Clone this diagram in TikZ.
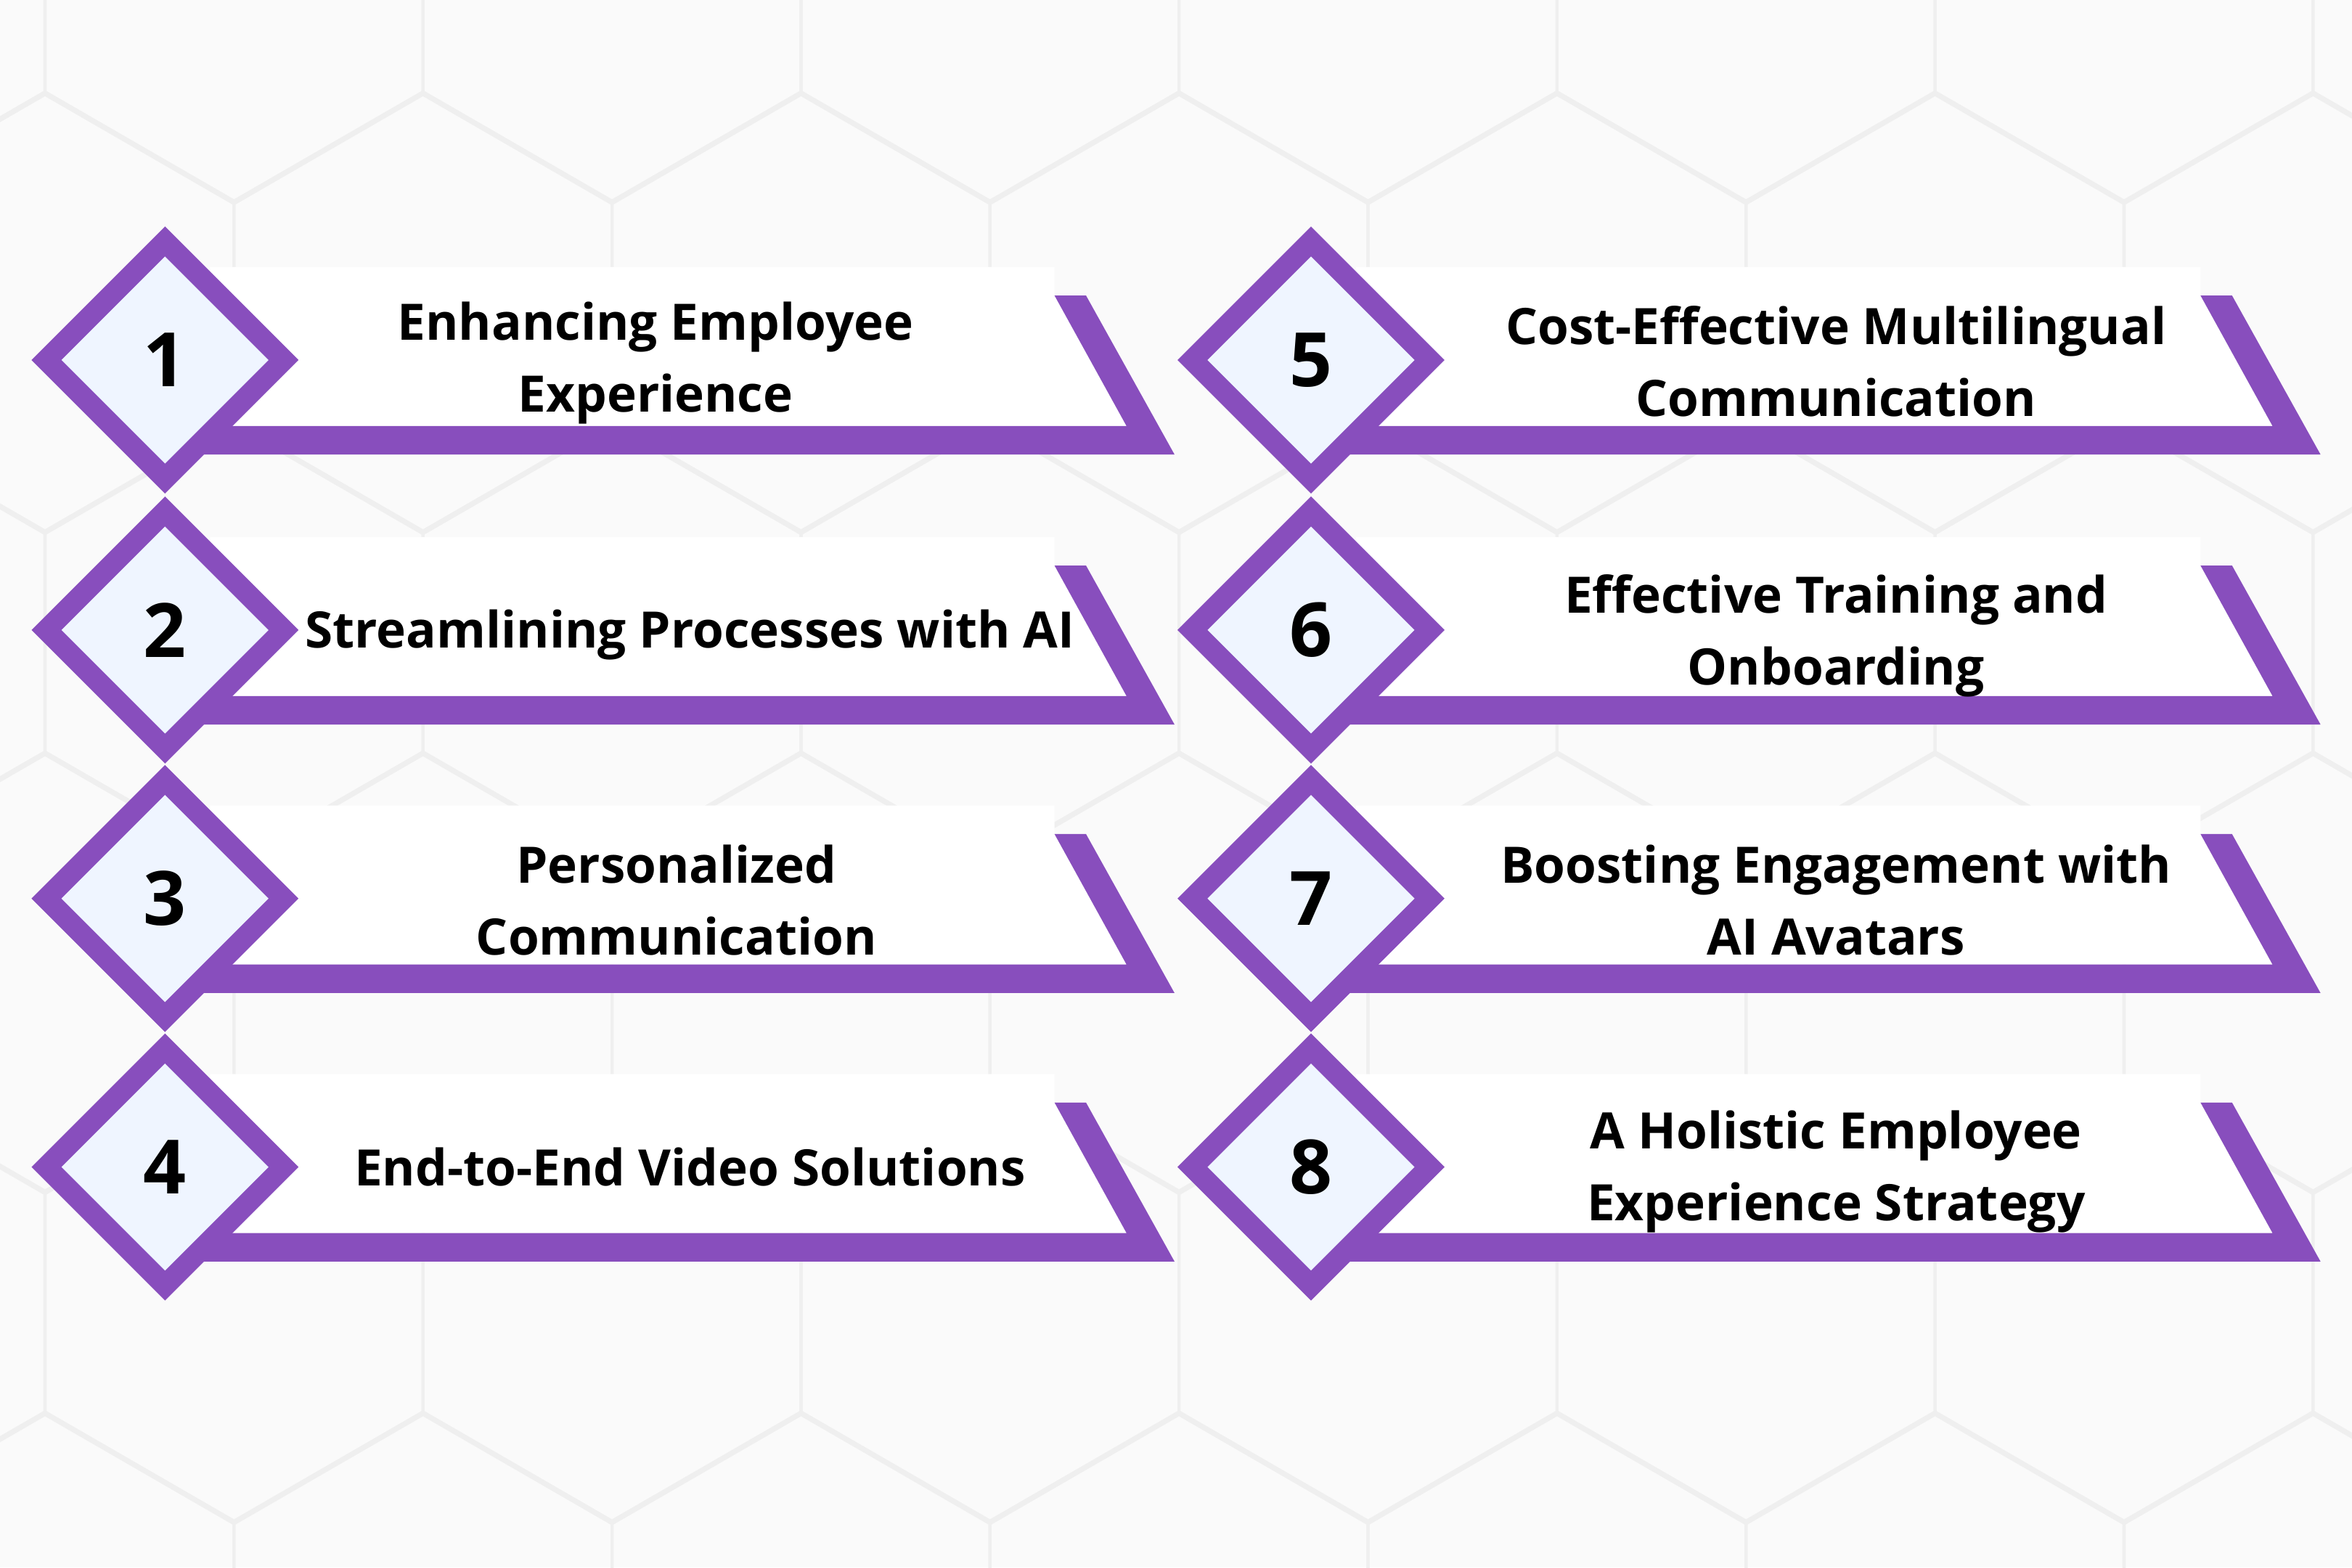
\documentclass[tikz,border=0pt]{standalone}
\usepackage{fontspec}
\setmainfont{Open Sans}
\definecolor{pur}{HTML}{884EBD}
\definecolor{inn}{HTML}{EFF5FF}
\definecolor{bgc}{HTML}{FAFAFA}
\definecolor{hexl}{HTML}{EFEFEF}
\tikzset{
 panel/.style={fill=white},
 band/.style={fill=pur},
 dout/.style={fill=pur},
 din/.style={fill=inn},
 numtxt/.style={font=\fontsize{50}{50}\selectfont\bfseries, text=black, inner sep=0pt},
 lbl/.style={font=\fontsize{33.5}{48}\selectfont\bfseries, align=center, text=black, inner sep=0pt},
 hexedge/.style={draw=hexl, line width=2pt, line join=round}
}
\newcommand\drawitem[3]{%
 \begin{scope}[shift={(#1,#2)}]
  \fill[panel] (30,-62) -- (593,-62) -- (593,-43) -- (641,44) -- (30,44) -- cycle;
  \fill[band] (593,-43) -- (614,-43) -- (673,63) -- (0,63) -- (0,44) -- (641,44) -- cycle;
  \fill[dout] (0,-89) -- (89,0) -- (0,89) -- (-89,0) -- cycle;
  \fill[din] (0,-69) -- (69,0) -- (0,69) -- (-69,0) -- cycle;
  \node[numtxt] (n#3) at (0,0) {#3};
 \end{scope}}
\begin{document}
\begin{tikzpicture}[x=1pt,y=-1pt]
\useasboundingbox (0,0) rectangle (1568,1045);
\fill[bgc] (0,0) rectangle (1568,1045);
\begin{scope}
\clip (0,0) rectangle (1568,1045);
\foreach \r in {0,...,5}{
  \pgfmathsetmacro\hy{-11.5+220*\r}
  \pgfmathsetmacro\hoff{mod(\r,2)==0 ? -96 : 30}
  \foreach \k in {0,...,7}{
    \pgfmathsetmacro\hx{\hoff+252*\k}
    \draw[hexedge] (\hx,\hy) ++(0,-145.5) -- ++(126,72.75) -- ++(0,145.5) -- ++(-126,72.75) -- ++(-126,-72.75) -- ++(0,-145.5) -- cycle;
  }
}
\end{scope}
\drawitem{110}{240}{1}
\drawitem{110}{420}{2}
\drawitem{110}{599}{3}
\drawitem{110}{778}{4}
\drawitem{874}{240}{5}
\drawitem{874}{420}{6}
\drawitem{874}{599}{7}
\drawitem{874}{778}{8}
\node[lbl] (t1) at (437,242) {Enhancing Employee\\Experience};
\node[lbl] (t2) at (460,423) {Streamlining Processes with AI};
\node[lbl] (t3) at (451,600) {Personalized\\Communication};
\node[lbl] (t4) at (460,778) {End-to-End Video Solutions};
\node[lbl] (t5) at (1224,241) {Cost-Effective Multilingual\\Communication};
\node[lbl] (t6) at (1224,424) {Effective Training and\\Onboarding};
\node[lbl] (t7) at (1224,600) {Boosting Engagement with\\AI Avatars};
\node[lbl] (t8) at (1224,781) {A Holistic Employee\\Experience Strategy};
\end{tikzpicture}
\end{document}
